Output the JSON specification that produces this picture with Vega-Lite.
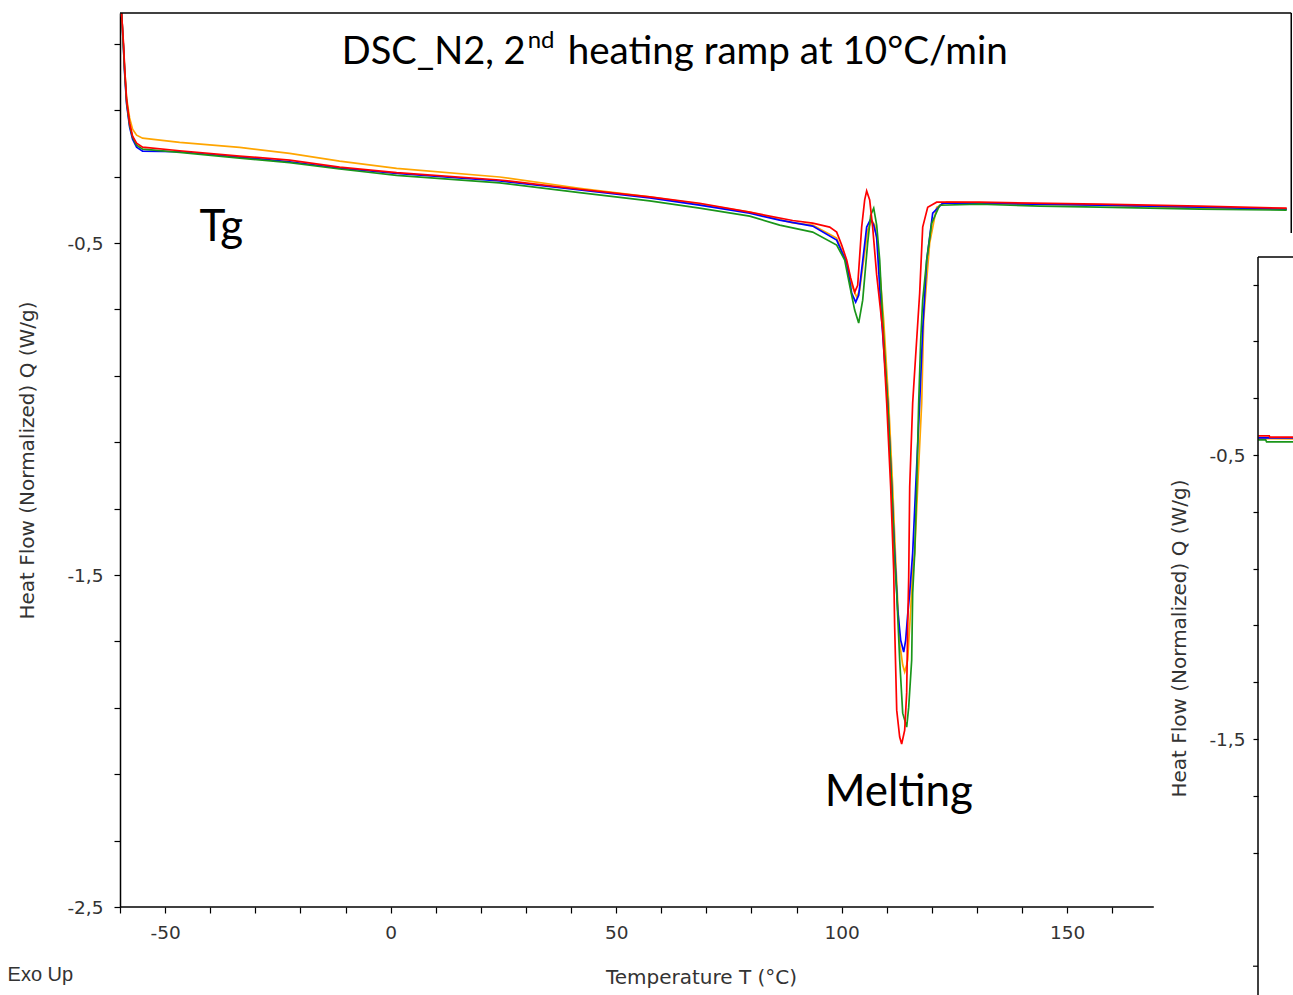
{
  "$schema": "https://vega.github.io/schema/vega-lite/v6.json",
  "width": 1138,
  "height": 894,
  "autosize": {"type": "none"},
  "padding": {"left": 120, "top": 13, "right": 35, "bottom": 88},
  "background": "white",
  "config": {
    "view": {"stroke": null},
    "axis": {
      "grid": false,
      "labelFont": "DejaVu Sans",
      "labelFontSize": 18.5,
      "labelColor": "#333333",
      "titleFont": "DejaVu Sans",
      "titleFontSize": 20,
      "titleFontWeight": "normal",
      "titleColor": "#333333",
      "tickColor": "#000000",
      "tickWidth": 1.2,
      "domainColor": "#000000",
      "domainWidth": 1.5,
      "labelFlush": false,
      "labelOverlap": false
    }
  },
  "datasets": {
    "curves": [
      {"run": "orange", "T": -59.65, "Q": 0.193}, {"run": "orange", "T": -59.2, "Q": 0.087}, {"run": "orange", "T": -58.98, "Q": 0.027}, {"run": "orange", "T": -58.54, "Q": -0.063}, {"run": "orange", "T": -57.87, "Q": -0.123}, {"run": "orange", "T": -57.21, "Q": -0.157}, {"run": "orange", "T": -56.32, "Q": -0.175}, {"run": "orange", "T": -54.99, "Q": -0.184}, {"run": "orange", "T": -46.78, "Q": -0.197}, {"run": "orange", "T": -33.48, "Q": -0.212}, {"run": "orange", "T": -22.39, "Q": -0.23}, {"run": "orange", "T": -11.31, "Q": -0.253}, {"run": "orange", "T": 1.33, "Q": -0.275}, {"run": "orange", "T": 24.17, "Q": -0.301}, {"run": "orange", "T": 41.91, "Q": -0.335}, {"run": "orange", "T": 57.43, "Q": -0.361}, {"run": "orange", "T": 68.51, "Q": -0.383}, {"run": "orange", "T": 79.6, "Q": -0.407}, {"run": "orange", "T": 89.14, "Q": -0.439}, {"run": "orange", "T": 93.57, "Q": -0.446}, {"run": "orange", "T": 98.89, "Q": -0.485}, {"run": "orange", "T": 101.11, "Q": -0.557}, {"run": "orange", "T": 102.22, "Q": -0.627}, {"run": "orange", "T": 103.33, "Q": -0.663}, {"run": "orange", "T": 103.99, "Q": -0.642}, {"run": "orange", "T": 104.88, "Q": -0.551}, {"run": "orange", "T": 105.76, "Q": -0.461}, {"run": "orange", "T": 106.65, "Q": -0.431}, {"run": "orange", "T": 107.32, "Q": -0.446}, {"run": "orange", "T": 107.98, "Q": -0.506}, {"run": "orange", "T": 109.31, "Q": -0.732}, {"run": "orange", "T": 110.42, "Q": -0.982}, {"run": "orange", "T": 111.31, "Q": -1.235}, {"run": "orange", "T": 111.97, "Q": -1.455}, {"run": "orange", "T": 112.86, "Q": -1.705}, {"run": "orange", "T": 113.53, "Q": -1.771}, {"run": "orange", "T": 113.97, "Q": -1.792}, {"run": "orange", "T": 114.41, "Q": -1.771}, {"run": "orange", "T": 114.63, "Q": -1.756}, {"run": "orange", "T": 115.3, "Q": -1.605}, {"run": "orange", "T": 115.74, "Q": -1.485}, {"run": "orange", "T": 116.19, "Q": -1.434}, {"run": "orange", "T": 116.85, "Q": -1.235}, {"run": "orange", "T": 117.74, "Q": -0.982}, {"run": "orange", "T": 118.18, "Q": -0.732}, {"run": "orange", "T": 118.85, "Q": -0.611}, {"run": "orange", "T": 119.51, "Q": -0.5}, {"run": "orange", "T": 121.06, "Q": -0.392}, {"run": "orange", "T": 123.28, "Q": -0.377}, {"run": "orange", "T": 130.6, "Q": -0.38}, {"run": "orange", "T": 157.21, "Q": -0.386}, {"run": "orange", "T": 179.38, "Q": -0.395}, {"run": "orange", "T": 198.67, "Q": -0.398},

      {"run": "blue", "T": -59.65, "Q": 0.193}, {"run": "blue", "T": -59.2, "Q": 0.081}, {"run": "blue", "T": -58.98, "Q": 0.015}, {"run": "blue", "T": -58.54, "Q": -0.081}, {"run": "blue", "T": -57.87, "Q": -0.151}, {"run": "blue", "T": -57.21, "Q": -0.187}, {"run": "blue", "T": -56.32, "Q": -0.211}, {"run": "blue", "T": -54.99, "Q": -0.223}, {"run": "blue", "T": -46.78, "Q": -0.225}, {"run": "blue", "T": -33.48, "Q": -0.241}, {"run": "blue", "T": -22.39, "Q": -0.255}, {"run": "blue", "T": -11.31, "Q": -0.274}, {"run": "blue", "T": 1.33, "Q": -0.29}, {"run": "blue", "T": 24.17, "Q": -0.313}, {"run": "blue", "T": 41.91, "Q": -0.34}, {"run": "blue", "T": 57.43, "Q": -0.364}, {"run": "blue", "T": 68.51, "Q": -0.386}, {"run": "blue", "T": 79.6, "Q": -0.41}, {"run": "blue", "T": 86.25, "Q": -0.431}, {"run": "blue", "T": 93.57, "Q": -0.449}, {"run": "blue", "T": 98.89, "Q": -0.491}, {"run": "blue", "T": 101.11, "Q": -0.56}, {"run": "blue", "T": 102.22, "Q": -0.651}, {"run": "blue", "T": 103.1, "Q": -0.678}, {"run": "blue", "T": 103.77, "Q": -0.657}, {"run": "blue", "T": 104.43, "Q": -0.581}, {"run": "blue", "T": 105.54, "Q": -0.452}, {"run": "blue", "T": 106.43, "Q": -0.428}, {"run": "blue", "T": 107.1, "Q": -0.446}, {"run": "blue", "T": 107.76, "Q": -0.482}, {"run": "blue", "T": 108.87, "Q": -0.732}, {"run": "blue", "T": 110.2, "Q": -0.982}, {"run": "blue", "T": 111.09, "Q": -1.235}, {"run": "blue", "T": 111.75, "Q": -1.434}, {"run": "blue", "T": 112.42, "Q": -1.605}, {"run": "blue", "T": 113.08, "Q": -1.696}, {"run": "blue", "T": 113.75, "Q": -1.732}, {"run": "blue", "T": 114.19, "Q": -1.696}, {"run": "blue", "T": 114.63, "Q": -1.62}, {"run": "blue", "T": 115.08, "Q": -1.554}, {"run": "blue", "T": 115.74, "Q": -1.434}, {"run": "blue", "T": 116.41, "Q": -1.235}, {"run": "blue", "T": 117.29, "Q": -0.982}, {"run": "blue", "T": 117.96, "Q": -0.762}, {"run": "blue", "T": 118.85, "Q": -0.551}, {"run": "blue", "T": 120.18, "Q": -0.41}, {"run": "blue", "T": 122.39, "Q": -0.38}, {"run": "blue", "T": 130.6, "Q": -0.38}, {"run": "blue", "T": 157.21, "Q": -0.386}, {"run": "blue", "T": 179.38, "Q": -0.392}, {"run": "blue", "T": 198.67, "Q": -0.398},

      {"run": "green", "T": -59.65, "Q": 0.193}, {"run": "green", "T": -59.2, "Q": 0.081}, {"run": "green", "T": -58.98, "Q": 0.021}, {"run": "green", "T": -58.54, "Q": -0.075}, {"run": "green", "T": -57.87, "Q": -0.145}, {"run": "green", "T": -57.21, "Q": -0.181}, {"run": "green", "T": -56.32, "Q": -0.205}, {"run": "green", "T": -54.99, "Q": -0.217}, {"run": "green", "T": -46.78, "Q": -0.227}, {"run": "green", "T": -33.48, "Q": -0.244}, {"run": "green", "T": -22.39, "Q": -0.258}, {"run": "green", "T": -11.31, "Q": -0.277}, {"run": "green", "T": 1.33, "Q": -0.296}, {"run": "green", "T": 24.17, "Q": -0.319}, {"run": "green", "T": 41.91, "Q": -0.348}, {"run": "green", "T": 57.43, "Q": -0.373}, {"run": "green", "T": 68.51, "Q": -0.395}, {"run": "green", "T": 79.6, "Q": -0.419}, {"run": "green", "T": 86.25, "Q": -0.446}, {"run": "green", "T": 93.57, "Q": -0.467}, {"run": "green", "T": 98.89, "Q": -0.506}, {"run": "green", "T": 100.67, "Q": -0.551}, {"run": "green", "T": 101.77, "Q": -0.627}, {"run": "green", "T": 102.88, "Q": -0.702}, {"run": "green", "T": 103.77, "Q": -0.741}, {"run": "green", "T": 104.66, "Q": -0.672}, {"run": "green", "T": 105.76, "Q": -0.5}, {"run": "green", "T": 106.43, "Q": -0.416}, {"run": "green", "T": 107.1, "Q": -0.395}, {"run": "green", "T": 107.76, "Q": -0.446}, {"run": "green", "T": 108.43, "Q": -0.551}, {"run": "green", "T": 109.09, "Q": -0.732}, {"run": "green", "T": 110.2, "Q": -0.982}, {"run": "green", "T": 111.09, "Q": -1.235}, {"run": "green", "T": 111.75, "Q": -1.455}, {"run": "green", "T": 112.2, "Q": -1.554}, {"run": "green", "T": 112.86, "Q": -1.756}, {"run": "green", "T": 113.53, "Q": -1.916}, {"run": "green", "T": 114.41, "Q": -1.958}, {"run": "green", "T": 114.86, "Q": -1.898}, {"run": "green", "T": 115.52, "Q": -1.756}, {"run": "green", "T": 115.74, "Q": -1.554}, {"run": "green", "T": 116.19, "Q": -1.434}, {"run": "green", "T": 116.63, "Q": -1.235}, {"run": "green", "T": 117.07, "Q": -0.982}, {"run": "green", "T": 117.52, "Q": -0.792}, {"run": "green", "T": 117.96, "Q": -0.672}, {"run": "green", "T": 118.85, "Q": -0.551}, {"run": "green", "T": 119.96, "Q": -0.44}, {"run": "green", "T": 121.73, "Q": -0.386}, {"run": "green", "T": 130.6, "Q": -0.383}, {"run": "green", "T": 143.9, "Q": -0.389}, {"run": "green", "T": 157.21, "Q": -0.392}, {"run": "green", "T": 179.38, "Q": -0.398}, {"run": "green", "T": 198.67, "Q": -0.401},

      {"run": "red", "T": -59.65, "Q": 0.193}, {"run": "red", "T": -59.2, "Q": 0.096}, {"run": "red", "T": -58.98, "Q": 0.03}, {"run": "red", "T": -58.54, "Q": -0.069}, {"run": "red", "T": -57.87, "Q": -0.139}, {"run": "red", "T": -57.21, "Q": -0.178}, {"run": "red", "T": -56.32, "Q": -0.199}, {"run": "red", "T": -54.99, "Q": -0.211}, {"run": "red", "T": -46.78, "Q": -0.222}, {"run": "red", "T": -33.48, "Q": -0.238}, {"run": "red", "T": -22.39, "Q": -0.25}, {"run": "red", "T": -11.31, "Q": -0.271}, {"run": "red", "T": 1.33, "Q": -0.288}, {"run": "red", "T": 24.17, "Q": -0.31}, {"run": "red", "T": 41.91, "Q": -0.338}, {"run": "red", "T": 57.43, "Q": -0.361}, {"run": "red", "T": 68.51, "Q": -0.38}, {"run": "red", "T": 79.6, "Q": -0.407}, {"run": "red", "T": 89.14, "Q": -0.432}, {"run": "red", "T": 93.57, "Q": -0.44}, {"run": "red", "T": 97.34, "Q": -0.452}, {"run": "red", "T": 98.89, "Q": -0.467}, {"run": "red", "T": 100.0, "Q": -0.506}, {"run": "red", "T": 101.11, "Q": -0.551}, {"run": "red", "T": 101.99, "Q": -0.605}, {"run": "red", "T": 102.88, "Q": -0.648}, {"run": "red", "T": 103.55, "Q": -0.627}, {"run": "red", "T": 104.43, "Q": -0.452}, {"run": "red", "T": 105.1, "Q": -0.37}, {"run": "red", "T": 105.54, "Q": -0.343}, {"run": "red", "T": 106.21, "Q": -0.37}, {"run": "red", "T": 106.87, "Q": -0.452}, {"run": "red", "T": 107.76, "Q": -0.596}, {"run": "red", "T": 109.09, "Q": -0.762}, {"run": "red", "T": 109.98, "Q": -0.982}, {"run": "red", "T": 110.86, "Q": -1.235}, {"run": "red", "T": 111.53, "Q": -1.485}, {"run": "red", "T": 111.75, "Q": -1.657}, {"run": "red", "T": 112.2, "Q": -1.907}, {"run": "red", "T": 112.86, "Q": -1.988}, {"run": "red", "T": 113.3, "Q": -2.009}, {"run": "red", "T": 113.97, "Q": -1.967}, {"run": "red", "T": 114.41, "Q": -1.855}, {"run": "red", "T": 114.63, "Q": -1.657}, {"run": "red", "T": 114.86, "Q": -1.506}, {"run": "red", "T": 115.08, "Q": -1.235}, {"run": "red", "T": 115.74, "Q": -0.982}, {"run": "red", "T": 116.41, "Q": -0.837}, {"run": "red", "T": 117.29, "Q": -0.651}, {"run": "red", "T": 117.96, "Q": -0.452}, {"run": "red", "T": 119.07, "Q": -0.392}, {"run": "red", "T": 121.06, "Q": -0.377}, {"run": "red", "T": 130.6, "Q": -0.377}, {"run": "red", "T": 157.21, "Q": -0.383}, {"run": "red", "T": 179.38, "Q": -0.389}, {"run": "red", "T": 198.67, "Q": -0.395}
    ],
    "inset": [
      {"run": "orange", "T": 192.35, "Q": -0.442}, {"run": "orange", "T": 200.2, "Q": -0.443},
      {"run": "blue", "T": 192.35, "Q": -0.44}, {"run": "blue", "T": 200.2, "Q": -0.44},
      {"run": "green", "T": 192.35, "Q": -0.447}, {"run": "green", "T": 194.0, "Q": -0.447}, {"run": "green", "T": 194.2, "Q": -0.454}, {"run": "green", "T": 200.2, "Q": -0.454},
      {"run": "red", "T": 192.35, "Q": -0.433}, {"run": "red", "T": 194.8, "Q": -0.433}, {"run": "red", "T": 194.9, "Q": -0.437}, {"run": "red", "T": 200.2, "Q": -0.437}
    ],
    "one": [{}]
  },
  "layer": [
    {
      "layer": [
        {
          "data": {"name": "curves"},
          "mark": {"type": "line", "strokeWidth": 1.7, "interpolate": "linear"},
          "encoding": {
            "x": {
              "field": "T", "type": "quantitative",
              "scale": {"domain": [-60, 192.3], "nice": false, "zero": false},
              "axis": {
                "orient": "bottom",
                "domain": false,
                "values": [-60, -50, -40, -30, -20, -10, 0, 10, 20, 30, 40, 50, 60, 70, 80, 90, 100, 110, 120, 130, 140, 150, 160],
                "tickSize": 6,
                "labelPadding": 10,
                "labelExpr": "datum.value % 50 == 0 ? toString(datum.value) : ''",
                "title": "Temperature  T  (°C)",
                "titleX": 581,
                "titleY": 70,
                "titleAlign": "center",
                "titleBaseline": "middle"
              }
            },
            "y": {
              "field": "Q", "type": "quantitative",
              "scale": {"domain": [-2.5, 0.193], "nice": false, "zero": false},
              "axis": {
                "orient": "left",
                "domain": true,
                "values": [0.1, -0.1, -0.3, -0.5, -0.7, -0.9, -1.1, -1.3, -1.5, -1.7, -1.9, -2.1, -2.3, -2.5],
                "tickSize": 6,
                "labelPadding": 11,
                "labelExpr": "(datum.value == -0.5 || datum.value == -1.5 || datum.value == -2.5) ? replace(toString(datum.value), '.', ',') : ''",
                "title": "Heat Flow (Normalized)  Q  (W/g)",
                "titleX": -93,
                "titleY": 447,
                "titleAngle": 270,
                "titleAlign": "center",
                "titleBaseline": "middle"
              }
            },
            "color": {
              "field": "run", "type": "nominal",
              "scale": {"domain": ["orange", "blue", "green", "red"], "range": ["#ffa500", "#0000ff", "#1a961a", "#ff0000"]},
              "legend": null
            }
          }
        },
        {
          "data": {"name": "one"},
          "mark": {"type": "rule", "color": "#000000", "strokeWidth": 1.5},
          "encoding": {
            "x": {"datum": -60, "type": "quantitative"},
            "x2": {"datum": 169.2},
            "y": {"datum": -2.5, "type": "quantitative"}
          }
        },
        {
          "data": {"name": "one"},
          "mark": {"type": "rule", "color": "#000000", "strokeWidth": 1.5},
          "encoding": {
            "x": {"datum": -60, "type": "quantitative"},
            "x2": {"datum": 199.67},
            "y": {"datum": 0.193, "type": "quantitative"}
          }
        },
        {
          "data": {"name": "one"},
          "mark": {"type": "rule", "color": "#000000", "strokeWidth": 1.5},
          "encoding": {
            "x": {"datum": 199.67, "type": "quantitative"},
            "y": {"datum": 0.193, "type": "quantitative"},
            "y2": {"datum": -0.47}
          }
        },
        {
          "data": {"values": [{"T": 29.93, "Q": 0.039, "label": "DSC_N2, 2"}]},
          "mark": {"type": "text", "align": "right", "baseline": "alphabetic", "font": "Lato", "fontSize": 38, "color": "#000000"},
          "encoding": {
            "x": {"field": "T", "type": "quantitative"},
            "y": {"field": "Q", "type": "quantitative"},
            "text": {"field": "label"}
          }
        },
        {
          "data": {"values": [{"T": 30.38, "Q": 0.087, "label": "nd"}]},
          "mark": {"type": "text", "align": "left", "baseline": "alphabetic", "font": "Lato", "fontSize": 24, "color": "#000000"},
          "encoding": {
            "x": {"field": "T", "type": "quantitative"},
            "y": {"field": "Q", "type": "quantitative"},
            "text": {"field": "label"}
          }
        },
        {
          "data": {"values": [{"T": 39.25, "Q": 0.039, "label": "heating ramp at 10°C/min"}]},
          "mark": {"type": "text", "align": "left", "baseline": "alphabetic", "font": "Lato", "fontSize": 38.6, "color": "#000000"},
          "encoding": {
            "x": {"field": "T", "type": "quantitative"},
            "y": {"field": "Q", "type": "quantitative"},
            "text": {"field": "label"}
          }
        },
        {
          "data": {"values": [{"T": -42.35, "Q": -0.494, "label": "Tg"}, {"T": 96.23, "Q": -2.196, "label": "Melting"}]},
          "mark": {"type": "text", "align": "left", "baseline": "alphabetic", "font": "Lato", "fontSize": 44, "color": "#000000"},
          "encoding": {
            "x": {"field": "T", "type": "quantitative"},
            "y": {"field": "Q", "type": "quantitative"},
            "text": {"field": "label"}
          }
        },
        {
          "data": {"values": [{"T": -84.92, "Q": -2.723, "label": "Exo Up"}]},
          "mark": {"type": "text", "align": "left", "baseline": "alphabetic", "font": "Liberation Sans", "fontSize": 20, "color": "#333333"},
          "encoding": {
            "x": {"field": "T", "type": "quantitative"},
            "y": {"field": "Q", "type": "quantitative"},
            "text": {"field": "label"}
          }
        }
      ]
    },
    {
      "layer": [
        {
          "data": {"name": "inset"},
          "mark": {"type": "line", "strokeWidth": 1.7},
          "encoding": {
            "x": {"field": "T", "type": "quantitative"},
            "y": {
              "field": "Q", "type": "quantitative",
              "scale": {"domain": [-2.0915, 1.0563], "nice": false, "zero": false},
              "axis": {
                "orient": "left",
                "offset": -1138,
                "domain": false,
                "values": [0.1, -0.1, -0.3, -0.5, -0.7, -0.9, -1.1, -1.3, -1.5, -1.7, -1.9],
                "tickSize": 5,
                "labelPadding": 8,
                "labelExpr": "(datum.value == -0.5 || datum.value == -1.5) ? replace(toString(datum.value), '.', ',') : ''",
                "title": "Heat Flow (Normalized)  Q  (W/g)",
                "titleX": -79,
                "titleY": 625,
                "titleAngle": 270,
                "titleAlign": "center",
                "titleBaseline": "middle"
              }
            },
            "color": {"field": "run", "type": "nominal", "legend": null}
          }
        },
        {
          "data": {"name": "one"},
          "mark": {"type": "rule", "color": "#000000", "strokeWidth": 1.5},
          "encoding": {
            "x": {"datum": 192.3, "type": "quantitative"},
            "x2": {"datum": 201},
            "y": {"datum": 0.1972, "type": "quantitative"}
          }
        },
        {
          "data": {"name": "one"},
          "mark": {"type": "rule", "color": "#000000", "strokeWidth": 1.5},
          "encoding": {
            "x": {"datum": 192.3, "type": "quantitative"},
            "y": {"datum": 0.1972, "type": "quantitative"},
            "y2": {"datum": -2.45}
          }
        },
        {
          "data": {"name": "one"},
          "mark": {"type": "rule", "color": "#000000", "strokeWidth": 1.2},
          "encoding": {
            "x": {"datum": 191.2, "type": "quantitative"},
            "x2": {"datum": 192.3},
            "y": {"datum": -2.3, "type": "quantitative"}
          }
        }
      ]
    }
  ],
  "resolve": {"scale": {"y": "independent"}}
}
